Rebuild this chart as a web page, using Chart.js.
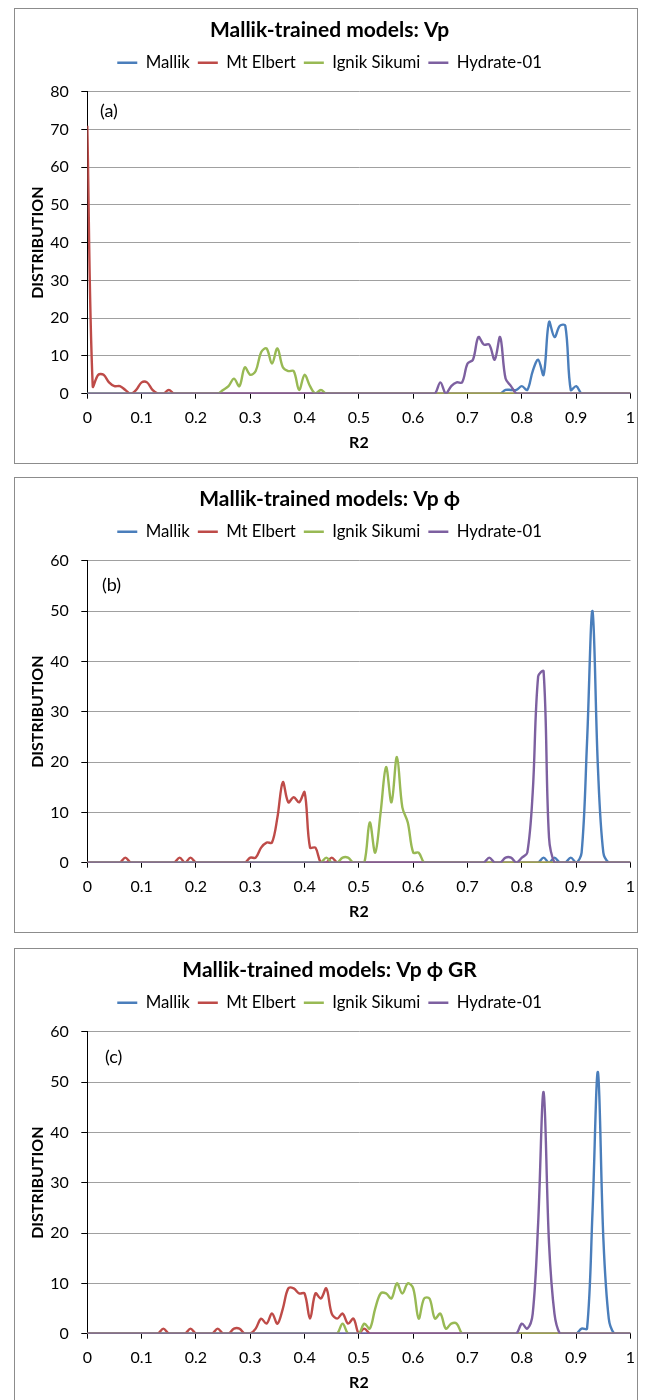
<!DOCTYPE html>
<html>
<head>
<meta charset="utf-8">
<script src="https://cdn.jsdelivr.net/npm/chart.js@4.4.1/dist/chart.umd.min.js"></script>
<style>
html,body{margin:0;padding:0;background:#fff;}
body{width:645px;height:1400px;position:relative;overflow:hidden;}
.panel{position:absolute;left:14px;width:624px;height:456px;box-sizing:border-box;border:1px solid #8c8c8c;background:#fff;}
.panel canvas{position:absolute;left:0;top:0;}
</style>
</head>
<body>
<div class="panel" style="top:8px"><canvas id="chartA" width="622" height="454"></canvas></div>
<div class="panel" style="top:477px"><canvas id="chartB" width="622" height="454"></canvas></div>
<div class="panel" style="top:948px"><canvas id="chartC" width="622" height="454"></canvas></div>
<script>
// ---------- data ----------
// x categories: R2 from 0 to 1 in steps of 0.01 (101 points)
const r2Labels = Array.from({length: 101}, (_, i) => +(i / 100).toFixed(2));
const xTickValues = [0, 0.1, 0.2, 0.3, 0.4, 0.5, 0.6, 0.7, 0.8, 0.9, 1];
const xTickLabels = ['0', '0.1', '0.2', '0.3', '0.4', '0.5', '0.6', '0.7', '0.8', '0.9', '1'];

const seriesNames = ['Mallik', 'Mt Elbert', 'Ignik Sikumi', 'Hydrate-01'];
const seriesColors = ['#4A7EBB', '#BE4B48', '#98B954', '#7D60A0'];

const panelTitles = ['Mallik-trained models: Vp', 'Mallik-trained models: Vp \u03D5', 'Mallik-trained models: Vp \u03D5 GR'];
const panelTags = ['(a)', '(b)', '(c)'];
const panelYMax = [80, 60, 60];

// (a) Vp
const mallikA = [
  0,0,0,0,0,0,0,0,0,0,
  0,0,0,0,0,0,0,0,0,0,
  0,0,0,0,0,0,0,0,0,0,
  0,0,0,0,0,0,0,0,0,0,
  0,0,0,0,0,0,0,0,0,0,
  0,0,0,0,0,0,0,0,0,0,
  0,0,0,0,0,0,0,0,0,0,
  0,0,0,0,0,0,0,1,1,1,
  2,1,6,9,5,19,15,18,18,1,
  2,0,0,0,0,0,0,0,0,0,
  0];
const mtElbertA = [
  71,2,5,5,3,2,2,1,0,1,
  3,3,1,0,0,1,0,0,0,0,
  0,0,0,0,0,0,0,0,0,0,
  0,0,0,0,0,0,0,0,0,0,
  0,0,0,0,0,0,0,0,0,0,
  0,0,0,0,0,0,0,0,0,0,
  0,0,0,0,0,0,0,0,0,0,
  0,0,0,0,0,0,0,0,0,0,
  0,0,0,0,0,0,0,0,0,0,
  0,0,0,0,0,0,0,0,0,0,
  0];
const ignikA = [
  0,0,0,0,0,0,0,0,0,0,
  0,0,0,0,0,0,0,0,0,0,
  0,0,0,0,0,1,2,4,2,7,
  5,6,11,12,8,12,7,6,6,1,
  5,2,0,1,0,0,0,0,0,0,
  0,0,0,0,0,0,0,0,0,0,
  0,0,0,0,0,0,0,0,0,0,
  0,0,0,0,0,0,0,0,0,0,
  0,0,0,0,0,0,0,0,0,0,
  0,0,0,0,0,0,0,0,0,0,
  0];
const hydrateA = [
  0,0,0,0,0,0,0,0,0,0,
  0,0,0,0,0,0,0,0,0,0,
  0,0,0,0,0,0,0,0,0,0,
  0,0,0,0,0,0,0,0,0,0,
  0,0,0,0,0,0,0,0,0,0,
  0,0,0,0,0,0,0,0,0,0,
  0,0,0,0,0,3,0,2,3,3,
  8,9,15,13,13,9,15,4,2,0,
  0,0,0,0,0,0,0,0,0,0,
  0,0,0,0,0,0,0,0,0,0,
  0];

// (b) Vp phi
const mallikB = [
  0,0,0,0,0,0,0,0,0,0,
  0,0,0,0,0,0,0,0,0,0,
  0,0,0,0,0,0,0,0,0,0,
  0,0,0,0,0,0,0,0,0,0,
  0,0,0,0,0,0,0,0,0,0,
  0,0,0,0,0,0,0,0,0,0,
  0,0,0,0,0,0,0,0,0,0,
  0,0,0,0,0,0,0,0,0,0,
  0,0,0,0,1,0,1,0,0,1,
  0,2,24,50,19,2,0,0,0,0,
  0];
const mtElbertB = [
  0,0,0,0,0,0,0,1,0,0,
  0,0,0,0,0,0,0,1,0,1,
  0,0,0,0,0,0,0,0,0,0,
  1,1,3,4,4,9,16,12,13,12,
  14,3,3,0,0,1,0,0,0,0,
  0,0,0,0,0,0,0,0,0,0,
  0,0,0,0,0,0,0,0,0,0,
  0,0,0,0,0,0,0,0,0,0,
  0,0,0,0,0,0,0,0,0,0,
  0,0,0,0,0,0,0,0,0,0,
  0];
const ignikB = [
  0,0,0,0,0,0,0,0,0,0,
  0,0,0,0,0,0,0,0,0,0,
  0,0,0,0,0,0,0,0,0,0,
  0,0,0,0,0,0,0,0,0,0,
  0,0,0,0,1,0,0,1,1,0,
  0,0,8,2,10,19,12,21,11,8,
  2,2,0,0,0,0,0,0,0,0,
  0,0,0,0,0,0,0,0,0,0,
  0,0,0,0,0,0,0,0,0,0,
  0,0,0,0,0,0,0,0,0,0,
  0];
const hydrateB = [
  0,0,0,0,0,0,0,0,0,0,
  0,0,0,0,0,0,0,0,0,0,
  0,0,0,0,0,0,0,0,0,0,
  0,0,0,0,0,0,0,0,0,0,
  0,0,0,0,0,0,0,0,0,0,
  0,0,0,0,0,0,0,0,0,0,
  0,0,0,0,0,0,0,0,0,0,
  0,0,0,0,1,0,0,1,1,0,
  1,2,14,37,38,5,0,0,0,0,
  0,0,0,0,0,0,0,0,0,0,
  0];

// (c) Vp phi GR
const mallikC = [
  0,0,0,0,0,0,0,0,0,0,
  0,0,0,0,0,0,0,0,0,0,
  0,0,0,0,0,0,0,0,0,0,
  0,0,0,0,0,0,0,0,0,0,
  0,0,0,0,0,0,0,0,0,0,
  0,0,0,0,0,0,0,0,0,0,
  0,0,0,0,0,0,0,0,0,0,
  0,0,0,0,0,0,0,0,0,0,
  0,0,0,0,0,0,0,0,0,0,
  0,1,1,24,52,19,3,0,0,0,
  0];
const mtElbertC = [
  0,0,0,0,0,0,0,0,0,0,
  0,0,0,0,1,0,0,0,0,1,
  0,0,0,0,1,0,0,1,1,0,
  0,1,3,2,4,2,5,9,9,8,
  8,3,8,7,9,4,3,4,2,3,
  0,1,0,0,0,0,0,0,0,0,
  0,0,0,0,0,0,0,0,0,0,
  0,0,0,0,0,0,0,0,0,0,
  0,0,0,0,0,0,0,0,0,0,
  0,0,0,0,0,0,0,0,0,0,
  0];
const ignikC = [
  0,0,0,0,0,0,0,0,0,0,
  0,0,0,0,0,0,0,0,0,0,
  0,0,0,0,0,0,0,0,0,0,
  0,0,0,0,0,0,0,0,0,0,
  0,0,0,0,0,0,0,2,0,0,
  0,2,1,5,8,8,7,10,8,10,
  9,3,7,7,3,4,1,2,2,0,
  0,0,0,0,0,0,0,0,0,0,
  0,0,0,0,0,0,0,0,0,0,
  0,0,0,0,0,0,0,0,0,0,
  0];
const hydrateC = [
  0,0,0,0,0,0,0,0,0,0,
  0,0,0,0,0,0,0,0,0,0,
  0,0,0,0,0,0,0,0,0,0,
  0,0,0,0,0,0,0,0,0,0,
  0,0,0,0,0,0,0,0,0,0,
  0,0,0,0,0,0,0,0,0,0,
  0,0,0,0,0,0,0,0,0,0,
  0,0,0,0,0,0,0,0,0,0,
  2,1,4,22,48,18,4,0,0,0,
  0,0,0,0,0,0,0,0,0,0,
  0];

// ---------- rendering ----------
const FONT = "Lato, Carlito, 'Open Sans', sans-serif";

const tagPlugin = {
  id: 'panelTag',
  afterDraw(chart, args, opts) {
    const {ctx, chartArea} = chart;
    ctx.save();
    ctx.font = '18px ' + FONT;
    ctx.fillStyle = '#000';
    ctx.textAlign = 'left';
    ctx.textBaseline = 'middle';
    ctx.fillText(opts.text, chartArea.left + opts.dx, chartArea.top + opts.dy);
    ctx.restore();
  }
};

function makeChart(canvasId, idx, values, tagOffset) {
  return new Chart(document.getElementById(canvasId), {
    type: 'line',
    data: {
      labels: r2Labels,
      datasets: seriesNames.map((name, k) => ({
        label: name,
        data: values[k],
        borderColor: seriesColors[k],
        backgroundColor: seriesColors[k],
        borderWidth: 2.4,
        pointRadius: 0,
        pointHoverRadius: 0,
        tension: 0.35,
        fill: false,
        order: 3 - k
      }))
    },
    plugins: [tagPlugin],
    options: {
      responsive: false,
      animation: false,
      devicePixelRatio: 1,
      events: [],
      layout: {autoPadding: false, padding: {left: 13.7, right: 6.5, top: 0, bottom: 0}},
      plugins: {
        title: {
          display: true, text: panelTitles[idx], color: '#000',
          font: {family: FONT, size: 21, weight: 'bold'},
          padding: {top: 8.4, bottom: 3.7}
        },
        subtitle: {
          display: true, text: '', weight: 500,
          font: {size: 1}, padding: {top: 0, bottom: 9.4}
        },
        legend: {
          position: 'top',
          labels: {
            color: '#000', font: {family: FONT, size: 16.8},
            boxWidth: 20, boxHeight: 0, padding: 8,
            sort: (a, b) => a.datasetIndex - b.datasetIndex
          }
        },
        tooltip: {enabled: false},
        panelTag: {text: panelTags[idx], dx: tagOffset[0], dy: tagOffset[1]}
      },
      scales: {
        x: {
          type: 'linear', min: 0, max: 1,
          afterFit: (s) => { s.height = 69.3; s.paddingLeft = 0; s.paddingRight = 0; },
          afterBuildTicks: (s) => { s.ticks = xTickValues.map(v => ({value: v})); },
          ticks: {
            color: '#000', font: {family: FONT, size: 16}, padding: 9.4, maxRotation: 0, autoSkip: false,
            callback: (v, i) => xTickLabels[i]
          },
          grid: {drawOnChartArea: false, drawTicks: true, tickLength: 5, tickColor: '#000'},
          border: {display: true, color: '#000', width: 1},
          title: {display: true, text: 'R2', color: '#000', font: {family: FONT, size: 16, weight: 'bold'}, padding: {top: 0, bottom: 10.1}}
        },
        y: {
          min: 0, max: panelYMax[idx],
          afterFit: (s) => { s.width = 58.6; s.paddingTop = 0; s.paddingBottom = 0; },
          ticks: {stepSize: 10, color: '#000', font: {family: FONT, size: 16}, padding: 12.4},
          grid: {color: '#a0a0a0', lineWidth: 1, tickColor: '#000', tickLength: 6},
          border: {display: true, color: '#000', width: 1},
          title: {display: true, text: 'DISTRIBUTION', color: '#000', font: {family: FONT, size: 16, weight: 'bold'}, padding: {top: 0, bottom: 0}}
        }
      }
    }
  });
}

makeChart('chartA', 0, [mallikA, mtElbertA, ignikA, hydrateA], [12.7, 19.3]);
makeChart('chartB', 1, [mallikB, mtElbertB, ignikB, hydrateB], [14.7, 24]);
makeChart('chartC', 2, [mallikC, mtElbertC, ignikC, hydrateC], [17.7, 25]);
</script>
</body>
</html>
